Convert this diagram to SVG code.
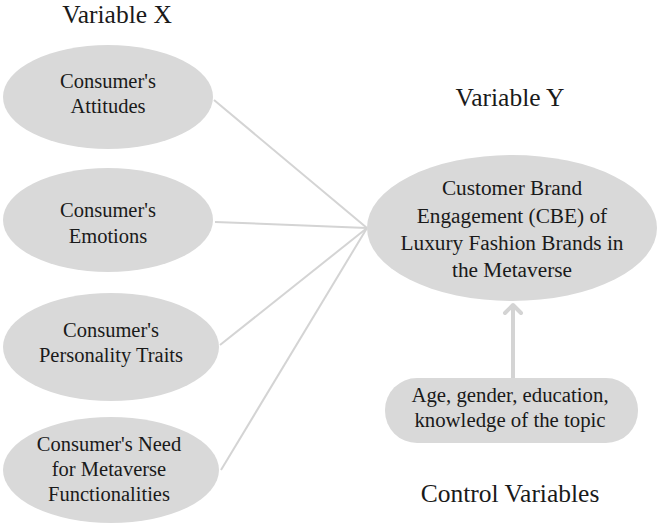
<svg xmlns="http://www.w3.org/2000/svg" width="657" height="524" viewBox="0 0 657 524">
<style>
.tx{font-family:'Liberation Serif','Times New Roman',serif;fill:#1a1a1a;text-anchor:middle}
.t{font-size:25.5px}
.n{font-size:20.5px}
.b{font-size:21.3px}
.r{font-size:20.8px}
.node{fill:#d9d9d9}
.c{stroke:#d4d4d4;stroke-width:2;fill:none}
</style>
<rect width="657" height="524" fill="#ffffff"/>
<g class="tx">
<text class="t" x="117" y="23" font-size="24.8">Variable X</text>
<text class="t" x="510" y="106">Variable Y</text>
<text class="t" x="510" y="502">Control Variables</text>
</g>
<g id="connectors">
<line class="c" x1="214" y1="100" x2="367" y2="228"/>
<line class="c" x1="215" y1="222" x2="367" y2="228"/>
<line class="c" x1="220" y1="345" x2="367" y2="228"/>
<line class="c" x1="221" y1="470" x2="367" y2="228"/>
<line x1="513" y1="378" x2="513" y2="307" stroke="#d4d4d4" stroke-width="4"/>
<polyline points="505,313 513,305 521,313" fill="none" stroke="#d4d4d4" stroke-width="4" stroke-linecap="round" stroke-linejoin="round"/>
</g>
<g id="n1" class="tx">
<ellipse class="node" cx="108" cy="97" rx="105" ry="52"/>
<text class="n" x="108" y="88">Consumer's</text>
<text class="n" x="108" y="113">Attitudes</text>
</g>
<g id="n2" class="tx">
<ellipse class="node" cx="108" cy="220" rx="105" ry="52"/>
<text class="n" x="108" y="217">Consumer's</text>
<text class="n" x="108" y="243">Emotions</text>
</g>
<g id="n3" class="tx">
<ellipse class="node" cx="111" cy="347" rx="108" ry="54"/>
<text class="n" x="111" y="337">Consumer's</text>
<text class="n" x="111" y="362">Personality Traits</text>
</g>
<g id="n4" class="tx">
<ellipse class="node" cx="111" cy="470" rx="108" ry="53"/>
<text class="n" x="109" y="451">Consumer's Need</text>
<text class="n" x="109" y="476">for Metaverse</text>
<text class="n" x="109" y="501">Functionalities</text>
</g>
<g id="y" class="tx">
<ellipse class="node" cx="512" cy="228" rx="145" ry="73"/>
<text class="b" x="512" y="195">Customer Brand</text>
<text class="b" x="512" y="223">Engagement (CBE) of</text>
<text class="b" x="512" y="250">Luxury Fashion Brands in</text>
<text class="b" x="512" y="277">the Metaverse</text>
</g>
<g id="ctrl" class="tx">
<rect class="node" x="385" y="378" width="253" height="65" rx="32" ry="32"/>
<text class="r" x="510" y="402">Age, gender, education,</text>
<text class="r" x="510" y="427">knowledge of the topic</text>
</g>
</svg>
